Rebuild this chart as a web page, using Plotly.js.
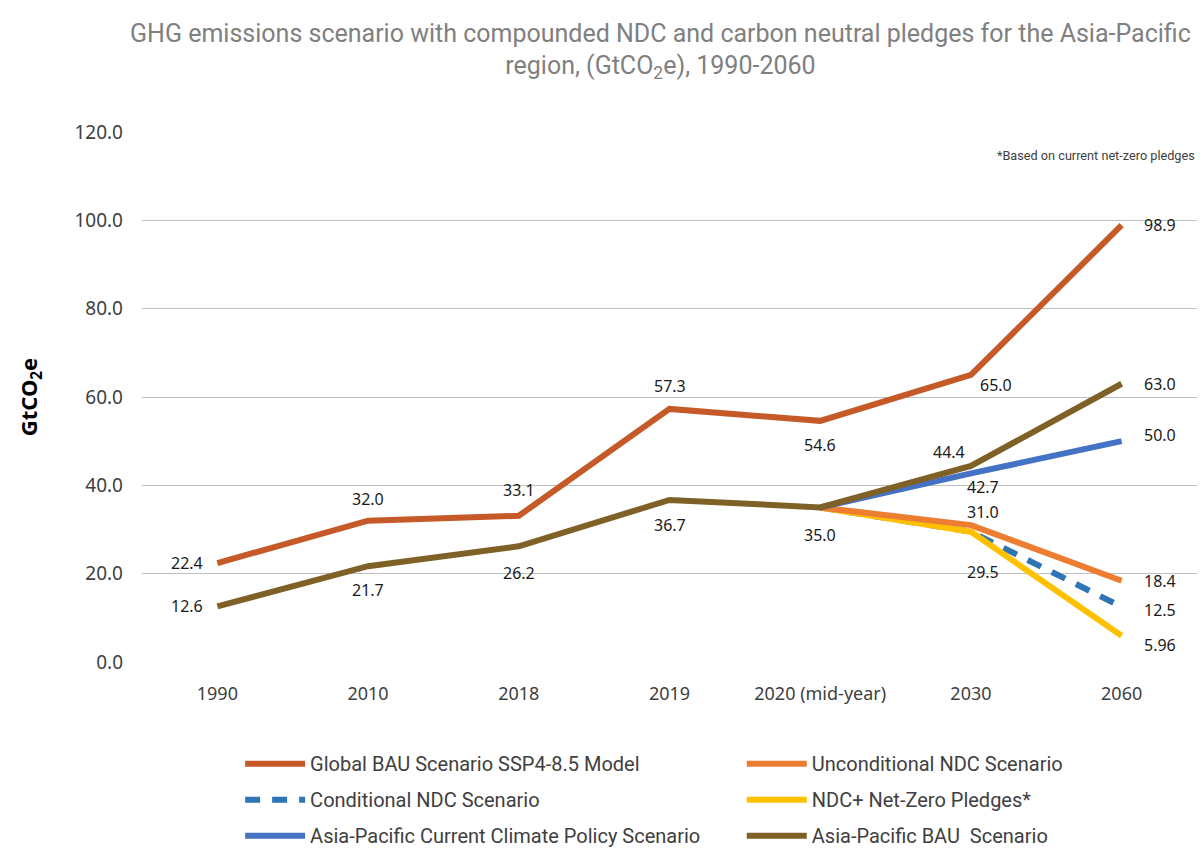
<!DOCTYPE html>
<html>
<head>
<meta charset="utf-8">
<script src="https://cdn.plot.ly/plotly-3.0.1.min.js"></script>
<style>
  html, body { margin: 0; padding: 0; background: #fff; }
  #chart { width: 1203px; height: 850px; }
</style>
</head>
<body>
<div id="chart"></div>
<script>
// Categories along the x axis
const years = ['1990', '2010', '2018', '2019', '2020 (mid-year)', '2030', '2060'];

// Emissions by scenario, GtCO2e (null = not part of that scenario)
const globalBau        = [22.4, 32.0, 33.1, 57.3, 54.6, 65.0, 98.9];
const apBau            = [12.6, 21.7, 26.2, 36.7, 35.0, 44.4, 63.0];
const apCurrentPolicy  = [null, null, null, null, 35.0, 42.7, 50.0];
const unconditionalNdc = [null, null, null, null, 35.0, 31.0, 18.4];
const conditionalNdc   = [null, null, null, null, 35.0, 29.5, 12.5];
const ndcNetZero       = [null, null, null, null, 35.0, 29.5, 5.96];

const yTicks = [0, 20, 40, 60, 80, 100, 120];

const NARROW = 'Roboto, "Liberation Sans", sans-serif';
const SANS = '"Noto Sans", "Open Sans", sans-serif';

// Series in drawing order: style, legend slot and which points carry a value label
// (label offsets in pixels: [right, up])
const series = [
  { name: 'Conditional NDC Scenario', y: conditionalNdc, color: '#2E75B6', dash: '15px,12px',
    legend: 'legend', rank: 2, labels: { 6: [38, -3] } },
  { name: 'NDC+ Net-Zero Pledges*', y: ndcNetZero, color: '#FFC000', dash: 'solid',
    legend: 'legend2', rank: 2, labels: { 5: [12, -40], 6: [38, -9] } },
  { name: 'Unconditional NDC Scenario', y: unconditionalNdc, color: '#ED7D31', dash: 'solid',
    legend: 'legend2', rank: 1, labels: { 5: [12, 13], 6: [38, 0] } },
  { name: 'Asia-Pacific Current Climate Policy Scenario', y: apCurrentPolicy, color: '#4472C4', dash: 'solid',
    legend: 'legend', rank: 3, labels: { 5: [12, -14], 6: [38, 6] } },
  { name: 'Asia-Pacific BAU  Scenario', y: apBau, color: '#7F6128', dash: 'solid',
    legend: 'legend2', rank: 3,
    labels: { 0: [-30, 0], 1: [0, -24], 2: [0, -27], 3: [0, -25], 4: [0, -28], 5: [-22, 14], 6: [38, 0] } },
  { name: 'Global BAU Scenario SSP4-8.5 Model', y: globalBau, color: '#C55A28', dash: 'solid',
    legend: 'legend', rank: 1,
    labels: { 0: [-30, 0], 1: [0, 22], 2: [0, 26], 3: [0, 23], 4: [0, -24], 5: [25, -10], 6: [38, 0] } }
];

function fmt(v) {
  return Math.abs(v * 10 - Math.round(v * 10)) < 1e-9 ? v.toFixed(1) : v.toFixed(2);
}

const traces = series.map((s, k) => ({
  type: 'scatter',
  mode: 'lines',
  x: years,
  y: s.y,
  name: s.name,
  legend: s.legend,
  legendrank: s.rank,
  legendgroup: 'g' + k,
  line: { color: s.color, width: 6, dash: s.dash },
  hoverinfo: 'x+y+name'
}));

// Value labels next to the points (category index used as x position)
const annotations = [];
series.forEach(s => {
  Object.keys(s.labels).forEach(key => {
    const i = Number(key);
    const off = s.labels[key];
    annotations.push({
      x: i, y: s.y[i], xref: 'x', yref: 'y',
      text: fmt(s.y[i]), showarrow: false,
      xshift: off[0], yshift: off[1],
      font: { family: SANS, size: 16, color: '#1a1a1a' }
    });
  });
});

annotations.push({
  xref: 'paper', yref: 'paper', x: 1, y: 0.955, xanchor: 'right', yanchor: 'middle',
  text: '*Based on current net-zero pledges', showarrow: false,
  font: { family: NARROW, size: 12.7, color: '#404040' }
});

const legendCommon = {
  orientation: 'v',
  yref: 'container',
  yanchor: 'top',
  xanchor: 'left',
  font: { family: NARROW, size: 20, color: '#404040' },
  tracegroupgap: 7,
  itemwidth: 60,
  bgcolor: 'rgba(0,0,0,0)'
};

const layout = {
  width: 1203,
  height: 850,
  margin: { l: 142, r: 6, t: 132, b: 188 },
  paper_bgcolor: '#ffffff',
  plot_bgcolor: '#ffffff',
  title: {
    text: 'GHG emissions scenario with compounded NDC and carbon neutral pledges for the Asia-Pacific<br>region, (GtCO<sub>2</sub>e), 1990-2060',
    font: { family: NARROW, size: 25, color: '#808080' },
    xref: 'container', x: 0.549, xanchor: 'center',
    yref: 'container', y: 0.951, yanchor: 'top'
  },
  xaxis: {
    type: 'category',
    range: [-0.5, 6.5],
    showgrid: false,
    showline: false,
    zeroline: false,
    ticks: '',
    tickfont: { family: SANS, size: 18, color: '#404040' },
    ticklabelstandoff: 19
  },
  yaxis: {
    range: [0, 120],
    tickvals: yTicks,
    tickformat: '.1f',
    showgrid: true,
    gridcolor: '#bfbfbf',
    gridwidth: 1,
    zeroline: false,
    showline: false,
    ticks: '',
    tickfont: { family: SANS, size: 19, color: '#404040' },
    ticklabelstandoff: 18,
    title: {
      text: 'GtCO<sub>2</sub>e',
      font: { family: SANS, size: 22, color: '#000000', weight: 'bold' },
      standoff: 30
    }
  },
  legend: Object.assign({}, legendCommon, { x: 0.093, y: 0.1245 }),
  legend2: Object.assign({}, legendCommon, { x: 0.5685, y: 0.1245 }),
  annotations: annotations,
  hovermode: 'closest'
};

Plotly.newPlot('chart', traces, layout, { displayModeBar: false, responsive: false });
</script>
</body>
</html>
